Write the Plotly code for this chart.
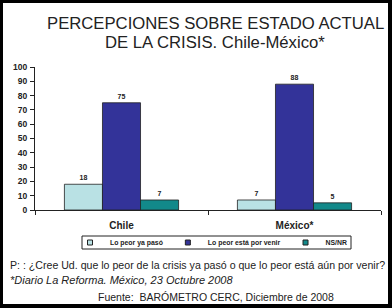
import plotly.graph_objects as go

categories = ["Chile", "México*"]
series_names = ["Lo peor ya pasó", "Lo peor está por venir", "NS/NR"]
lo_peor_paso = [18, 7]
lo_peor_venir = [75, 88]
ns_nr = [7, 5]
values = [lo_peor_paso, lo_peor_venir, ns_nr]
colors = ["#b9e1e4", "#333399", "#12898a"]
y_ticks = list(range(0, 101, 10))

W, H = 392, 308
L, R, T, B = 35, 11, 67, 98
pw, ph = W - L - R, H - T - B

def px_x(p):
    return (p - L) / pw

def px_y(p):
    return (H - B - p) / ph

FONT = "Liberation Sans, Arial, sans-serif"

fig = go.Figure()
for name, vals, col in zip(series_names, values, colors):
    fig.add_trace(go.Bar(
        x=categories, y=vals, name=name,
        marker=dict(color=col, line=dict(color="#222222", width=0.8)),
        text=[str(v) for v in vals], textposition="outside",
        textfont=dict(family=FONT, size=7, color="#222222", weight="bold"),
        cliponaxis=False, showlegend=False,
    ))
# legend entries with small square symbols
for name, col in zip(series_names, colors):
    fig.add_trace(go.Scatter(
        x=[None], y=[None], mode="markers", name=name,
        marker=dict(symbol="square", size=5, color=col, line=dict(color="#222222", width=1)),
    ))

fig.update_layout(
    width=W, height=H,
    margin=dict(l=L, r=R, t=T, b=B, pad=0),
    paper_bgcolor="black", plot_bgcolor="white",
    barmode="group", bargap=0.34, bargroupgap=0,
    font=dict(family=FONT, color="#222222"),
    showlegend=True,
    legend=dict(
        orientation="h", x=px_x(211), y=px_y(242.5), xanchor="center", yanchor="middle",
        borderwidth=0, bgcolor="rgba(0,0,0,0)",
        font=dict(family=FONT, size=6.9, color="#222222", weight="bold"),
        itemsizing="trace", itemwidth=30, tracegroupgap=0,
    ),
    xaxis=dict(
        showline=True, linecolor="#222222", linewidth=1,
        ticks="outside", ticklen=4, tickcolor="#222222", tickson="boundaries",
        tickfont=dict(family=FONT, size=10, color="#222222", weight="bold"),
        ticklabelstandoff=6, showgrid=False,
    ),
    yaxis=dict(
        range=[0, 100], tickvals=y_ticks, showline=True, linecolor="#222222", linewidth=1,
        ticks="outside", ticklen=4, tickcolor="#222222", showgrid=False, zeroline=False,
        tickfont=dict(family=FONT, size=8.5, color="#222222", weight="bold"),
        ticklabelstandoff=1,
    ),
    shapes=[
        dict(type="rect", xref="paper", yref="paper", layer="below",
             x0=px_x(3), x1=px_x(388), y0=px_y(304), y1=px_y(3),
             fillcolor="white", line=dict(width=0)),
        dict(type="rect", xref="paper", yref="paper", layer="above",
             x0=px_x(82), x1=px_x(351), y0=px_y(249), y1=px_y(236),
             line=dict(color="#222222", width=1)),
    ],
)

anns = [
    dict(text="PERCEPCIONES SOBRE ESTADO ACTUAL",
         x=px_x(215), y=px_y(23), xanchor="center", yanchor="middle",
         font=dict(family=FONT, size=16.7, color="#222222")),
    dict(text="DE LA CRISIS. Chile-México*",
         x=px_x(215), y=px_y(42), xanchor="center", yanchor="middle",
         font=dict(family=FONT, size=16.7, color="#222222")),
    dict(text="P: : ¿Cree Ud. que lo peor de la crisis ya pasó o que lo peor está aún por venir?",
         x=px_x(9), y=px_y(265), xanchor="left", yanchor="middle",
         font=dict(family=FONT, size=10.6, color="#222222")),
    dict(text="<i>*Diario La Reforma. México, 23 Octubre 2008</i>",
         x=px_x(9), y=px_y(280), xanchor="left", yanchor="middle",
         font=dict(family=FONT, size=11, color="#222222")),
    dict(text="Fuente:  BARÓMETRO CERC, Diciembre de 2008",
         x=px_x(97), y=px_y(297), xanchor="left", yanchor="middle",
         font=dict(family=FONT, size=10.5, color="#222222")),
]
for a in anns:
    fig.add_annotation(xref="paper", yref="paper", showarrow=False, borderpad=0, **a)

fig.write_html("out.html")
